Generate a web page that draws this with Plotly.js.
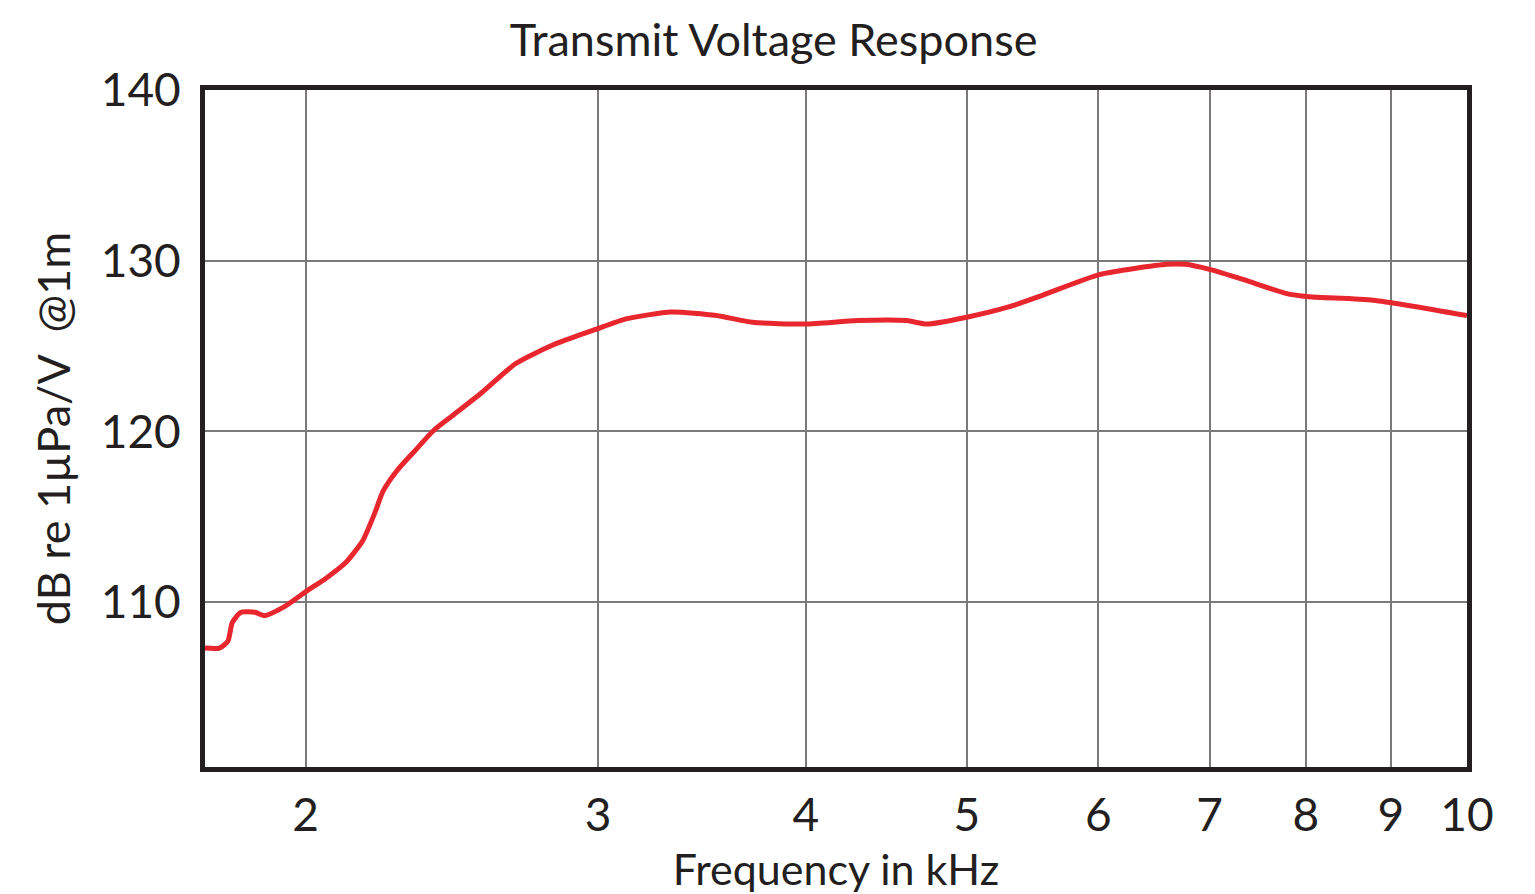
<!DOCTYPE html>
<html>
<head>
<meta charset="utf-8">
<script src="https://cdn.plot.ly/plotly-3.0.1.min.js"></script>
<style>
  html, body { margin: 0; padding: 0; background: #ffffff; }
  #chart { width: 1535px; height: 894px; }
</style>
</head>
<body>
<div id="chart"></div>
<script>
// Frequency in kHz (mapped through its labelled ticks)
const freqKHz = [1.74, 1.775, 1.796, 1.807, 1.829, 1.865, 1.889, 1.94, 2.0, 2.058,
  2.114, 2.165, 2.201, 2.227, 2.27, 2.324, 2.391, 2.457, 2.555, 2.678,
  2.822, 2.993, 3.118, 3.32, 3.534, 3.716, 4.0, 4.294, 4.601, 4.731,
  5.0, 5.298, 5.557, 6.009, 6.598, 6.768, 7.0, 7.338, 7.778, 8.036,
  8.783, 10.0];
// Transmit voltage response, dB re 1µPa/V @1m
const tvrDb = [107.3, 107.3, 107.7, 108.8, 109.4, 109.4, 109.2, 109.7, 110.6, 111.4,
  112.3, 113.6, 115.2, 116.5, 117.7, 118.8, 120.1, 121.0, 122.3, 124.0,
  125.1, 126.0, 126.6, 127.0, 126.8, 126.4, 126.3, 126.5, 126.5, 126.3,
  126.7, 127.3, 128.0, 129.2, 129.8, 129.8, 129.5, 128.9, 128.1, 127.9,
  127.7, 126.8];

const xTickVals = [2, 3, 4, 5, 6, 7, 8, 9, 10];
const xTickText = ["2", "3", "4", "5", "6", "7", "8", "9", "10"];
const yTickVals = [110, 120, 130, 140];
const yTickText = ["110", "120", "130", "140"];

const chartTitle = "Transmit Voltage Response";
const xTitle = "Frequency in kHz";
const yTitle = "dB re 1µPa/V&nbsp;&nbsp;@1m";

const FONT = "Lato, 'Liberation Sans', sans-serif";
const INK = "#231f20";

const trace = {
  x: freqKHz,
  y: tvrDb,
  type: "scatter",
  mode: "lines",
  line: { color: "#e8262d", width: 5, shape: "spline", smoothing: 0.6 },
  hoverinfo: "x+y"
};

const layout = {
  width: 1535,
  height: 894,
  paper_bgcolor: "#ffffff",
  plot_bgcolor: "#ffffff",
  showlegend: false,
  margin: { l: 205, r: 68, t: 90, b: 127, pad: 0 },
  font: { family: FONT, color: INK },
  title: {
    text: chartTitle,
    font: { family: FONT, size: 45, color: INK },
    x: 0.504,
    xanchor: "center",
    xref: "container",
    y: 0.955,
    yanchor: "middle",
    yref: "container"
  },
  xaxis: {
    type: "log",
    range: [Math.log10(1.74), Math.log10(10)],
    tickmode: "array",
    tickvals: xTickVals,
    ticktext: xTickText,
    ticks: "",
    ticklabelstandoff: 4,
    tickfont: { family: FONT, size: 46, color: INK },
    showgrid: true,
    gridcolor: "#7a7a7a",
    gridwidth: 1.5,
    showline: true,
    linecolor: INK,
    linewidth: 5,
    mirror: true,
    zeroline: false,
    fixedrange: true,
    title: {
      text: xTitle,
      font: { family: FONT, size: 43, color: INK },
      standoff: 22
    },
    automargin: false
  },
  yaxis: {
    type: "linear",
    range: [100.33, 140.02],
    tickmode: "array",
    tickvals: yTickVals,
    ticktext: yTickText,
    ticks: "",
    ticklabelstandoff: 10,
    tickfont: { family: FONT, size: 46, color: INK },
    showgrid: true,
    gridcolor: "#7a7a7a",
    gridwidth: 1.5,
    showline: true,
    linecolor: INK,
    linewidth: 5,
    mirror: true,
    zeroline: false,
    fixedrange: true,
    title: {
      text: yTitle,
      font: { family: FONT, size: 45, color: INK },
      standoff: 18
    },
    automargin: false
  }
};

Plotly.newPlot("chart", [trace], layout, { displayModeBar: false, staticPlot: false, responsive: false });
</script>
</body>
</html>
